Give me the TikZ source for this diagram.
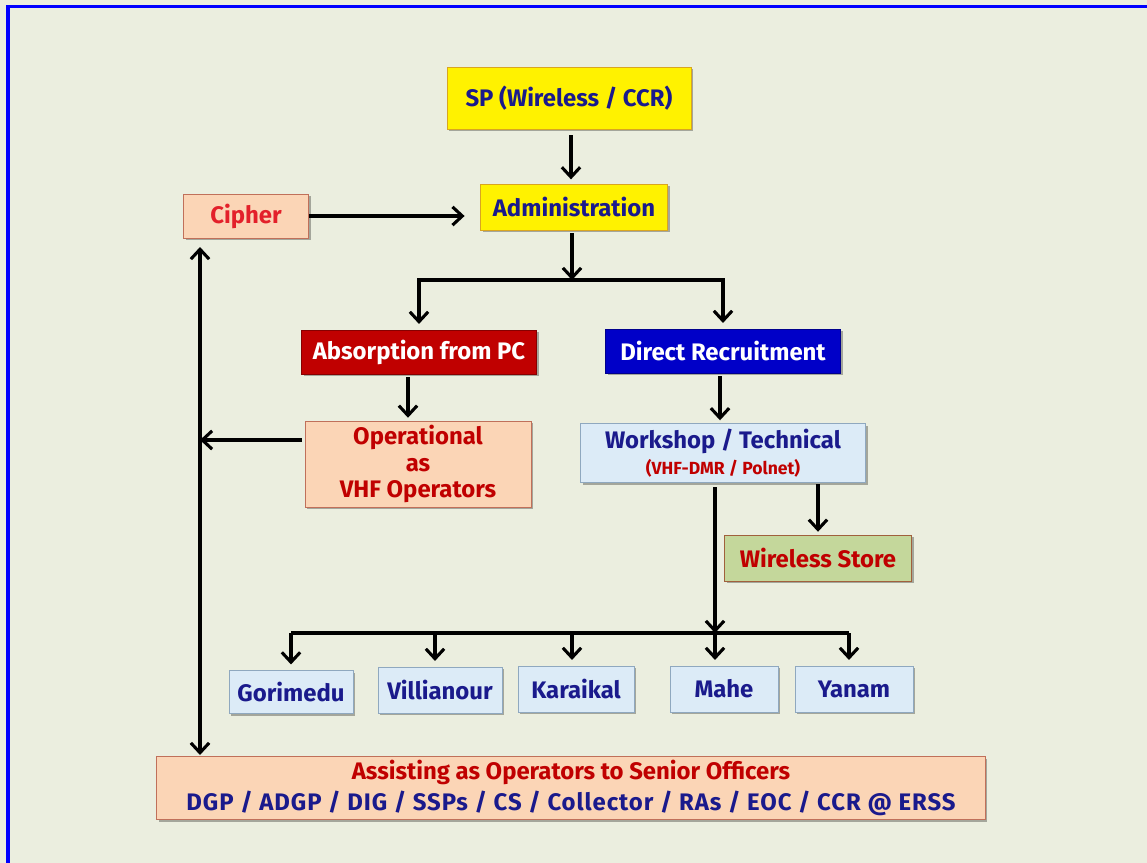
\documentclass[tikz,border=0pt]{standalone}
\usepackage{fontspec}
\setmainfont{Fira Sans}
\usetikzlibrary{arrows.meta,calc,shadows}

\definecolor{bgcol}{HTML}{EBEEDF}
\definecolor{navytxt}{HTML}{1A1A8C}
\definecolor{redtxt}{HTML}{C00000}
\definecolor{cipherred}{HTML}{E3202A}
\definecolor{peach}{HTML}{FBD5B6}
\definecolor{peachline}{HTML}{C0705A}
\definecolor{yellowline}{HTML}{D9A520}
\definecolor{skybox}{HTML}{DCEBF7}
\definecolor{skyline}{HTML}{8FA8BF}
\definecolor{storefill}{HTML}{C4D79B}
\definecolor{storeline}{HTML}{A0603C}
\definecolor{absorbfill}{HTML}{C00000}
\definecolor{directfill}{HTML}{0000C8}

\begin{document}
\begin{tikzpicture}[x=0.025cm,y=-0.025cm,
  box/.style={draw,line width=0.6pt,inner sep=0pt,align=center,
    font=\bfseries\fontsize{17}{19}\selectfont,
    drop shadow={shadow xshift=1.5pt,shadow yshift=-1.5pt,opacity=0.3,fill=black}},
  yellowbox/.style={box,fill=yellow,draw=yellowline,text=navytxt},
  peachbox/.style={box,fill=peach,draw=peachline,text=redtxt},
  skybox/.style={box,fill=skybox,draw=skyline,text=navytxt},
  tip/.style={-{Straight Barb[length=7pt,width=13pt,line width=2.2pt]}},
  arr/.style={line width=2.2pt,tip},
  dblarr/.style={line width=2.2pt,{Straight Barb[length=7pt,width=13pt,line width=2.2pt]}-{Straight Barb[length=7pt,width=13pt,line width=2.2pt]}},
  bus/.style={line width=2.2pt}]

% background and frame
\fill[bgcol] (0,0) rectangle (1147,863);
\useasboundingbox (0,0) rectangle (1147,863);
\draw[blue,line width=2.2pt] (8,863) -- (8,6.5) -- (1147,6.5);

% top of the chart
\node[yellowbox,minimum width=6.1cm,minimum height=1.55cm] (sp) at (569,98) {SP (Wireless / CCR)};
\node[yellowbox,minimum width=4.675cm,minimum height=1.15cm] (admin) at (574,207) {Administration};
\node[peachbox,text=cipherred,minimum width=3.125cm,minimum height=1.1cm] (cipher) at (246,216) {Cipher};

% two branches
\node[box,fill=absorbfill,draw=absorbfill!70!black,text=white,minimum width=5.875cm,minimum height=1.1cm] (absorb) at (419,352) {Absorption from PC};
\node[box,fill=directfill,draw=directfill!70!black,text=white,minimum width=5.875cm,minimum height=1.1cm] (direct) at (723,351) {Direct Recruitment};
\node[peachbox,minimum width=5.65cm,minimum height=2.15cm] (oper) at (418,464) {Operational\\as\\VHF Operators};
\node[skybox,minimum width=7.125cm,minimum height=1.475cm,font=\bfseries\fontsize{17}{18}\selectfont] (work) at (723,453)
  {Workshop / Technical\\{\fontsize{12.5}{13}\selectfont\color{redtxt}(VHF-DMR / Polnet)}};
\node[box,fill=storefill,draw=storeline,text=redtxt,minimum width=4.675cm,minimum height=1.15cm] (store) at (818,558) {Wireless Store};

% units
\node[skybox,minimum width=3.1cm,minimum height=1.075cm] (gori) at (291,692) {Gorimedu};
\node[skybox,minimum width=3.1cm,minimum height=1.15cm] (vill) at (440,690) {Villianour};
\node[skybox,minimum width=2.9cm,minimum height=1.15cm] (kara) at (576,689) {Karaikal};
\node[skybox,minimum width=2.7cm,minimum height=1.15cm] (mahe) at (724,689) {Mahe};
\node[skybox,minimum width=2.95cm,minimum height=1.15cm] (yanam) at (854,689) {Yanam};

\node[peachbox,minimum width=20.7cm,minimum height=1.575cm,font=\bfseries\fontsize{17}{22}\selectfont] (assist) at (571,788)
  {Assisting as Operators to Senior Officers\\{\color{navytxt}\addfontfeatures{LetterSpace=4}DGP / ADGP / DIG / SSPs / CS / Collector / RAs / EOC / CCR @ ERSS}};

% connectors
\coordinate (bus1) at (572,280);
\coordinate (bus2) at (715,633);
\coordinate (vtop) at (200,247);
\coordinate (vbot) at (200,755);
\coordinate (operout) at ($(oper.west)+(0,-24)$);

\draw[arr,shorten <=4pt,shorten >=3pt] (sp.south -| 571,0) -- (admin.north -| 571,0);
\draw[arr,shorten >=11pt] (cipher.east) -- (cipher.east -| admin.west);
\draw[arr,shorten <=2pt] (admin.south -| bus1) -- (bus1);
\draw[arr,shorten >=4pt] (bus1) -| (absorb.north);
\draw[arr,shorten >=4pt] (bus1) -| (direct.north);
\draw[arr,shorten <=2pt,shorten >=2pt] (absorb.south -| 408,0) -- (oper.north -| 408,0);
\draw[arr,shorten <=2pt] (operout) -- (operout -| vtop);
\draw[dblarr] (vtop) -- (vbot);
\draw[arr,shorten <=2pt,shorten >=2pt] (direct.south -| 720,0) -- (work.north -| 720,0);
\draw[arr,shorten <=1pt,shorten >=2pt] (work.south -| store.north) -- (store.north);
\draw[arr,shorten <=3pt] (work.south -| bus2) -- (bus2);
\draw[bus] (bus2 -| gori.north) -- (bus2 -| 849,0);
\foreach \unit/\ux in {gori/291,vill/435,kara/572,mahe/715,yanam/849}
  \draw[arr,shorten >=4pt] (bus2 -| \ux,0) -- (\unit.north -| \ux,0);

\end{tikzpicture}
\end{document}
